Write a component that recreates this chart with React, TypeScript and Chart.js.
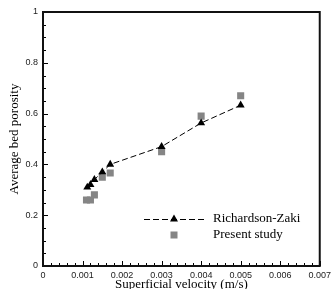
import React, { useEffect, useRef } from "react";
import { Chart, registerables } from "chart.js";

Chart.register(...registerables);

const velocityRZ = [0.00112, 0.0012, 0.0013, 0.0015, 0.0017, 0.003, 0.004, 0.005];
const porosityRZ = [0.31, 0.32, 0.34, 0.37, 0.40, 0.47, 0.563, 0.633];
const velocityPS = [0.0011, 0.0012, 0.0013, 0.0015, 0.0017, 0.003, 0.004, 0.005];
const porosityPS = [0.26, 0.26, 0.28, 0.35, 0.366, 0.45, 0.59, 0.67];
const seriesNames = ["Richardson-Zaki", "Present study"];
const xTitle = "Superficial velocity (m/s)";
const yTitle = "Average bed porosity";

const SERIF = "'Liberation Serif', 'Times New Roman', serif";
const SANS = "'Liberation Sans', Arial, sans-serif";

const framePlugin = {
  id: "frame",
  beforeDatasetsDraw(chart: any) {
    const { ctx, chartArea: a, scales } = chart;
    const xs = scales.x;
    const ys = scales.y;
    ctx.save();
    ctx.strokeStyle = "#000";
    ctx.lineWidth = 1;
    for (let i = 0; i <= 35; i++) {
      const v = i * 0.0002;
      const px = Math.round(xs.getPixelForValue(v)) + 0.5;
      const len = i % 5 === 0 ? 5 : 3;
      ctx.beginPath();
      ctx.moveTo(px, a.bottom);
      ctx.lineTo(px, a.bottom - len);
      ctx.stroke();
    }
    for (let i = 0; i <= 20; i++) {
      const v = i * 0.05;
      const py = Math.round(ys.getPixelForValue(v)) + 0.5;
      const len = i % 4 === 0 ? 5 : 3;
      ctx.beginPath();
      ctx.moveTo(a.left, py);
      ctx.lineTo(a.left + len, py);
      ctx.stroke();
    }
    ctx.lineWidth = 2;
    ctx.strokeStyle = "#111";
    ctx.strokeRect(a.left, a.top, a.right - a.left, a.bottom - a.top);
    ctx.restore();
  },
  afterDraw(chart: any) {
    const { ctx, chartArea: a } = chart;
    const x0 = a.left + 101;
    const x1 = a.left + 161;
    const xm = (x0 + x1) / 2;
    const y1 = a.top + 207;
    const y2 = a.top + 223;
    ctx.save();
    ctx.strokeStyle = "#000";
    ctx.lineWidth = 1;
    ctx.setLineDash([6, 3]);
    ctx.beginPath();
    ctx.moveTo(x0, y1 + 0.5);
    ctx.lineTo(x1, y1 + 0.5);
    ctx.stroke();
    ctx.setLineDash([]);
    ctx.fillStyle = "#000";
    ctx.beginPath();
    ctx.moveTo(xm, y1 - 4.5);
    ctx.lineTo(xm + 4, y1 + 2.5);
    ctx.lineTo(xm - 4, y1 + 2.5);
    ctx.closePath();
    ctx.fill();
    ctx.fillStyle = "#858585";
    ctx.fillRect(xm - 3.5, y2 - 3.5, 7, 7);
    ctx.fillStyle = "#000";
    ctx.font = `13px ${SERIF}`;
    ctx.textBaseline = "middle";
    ctx.textAlign = "left";
    ctx.fillText(seriesNames[0], x1 + 9, y1);
    ctx.fillText(seriesNames[1], x1 + 9, y2);
    ctx.restore();
  },
};

export default function App() {
  const ref = useRef<HTMLCanvasElement | null>(null);
  useEffect(() => {
    if (!ref.current) return;
    const chart = new Chart(ref.current, {
      type: "scatter",
      data: {
        datasets: [
          {
            label: seriesNames[0],
            data: velocityRZ.map((x, i) => ({ x, y: porosityRZ[i] })),
            showLine: true,
            borderColor: "#000",
            borderWidth: 1,
            borderDash: [6, 3],
            pointStyle: "triangle",
            pointRadius: 4.6,
            pointBackgroundColor: "#000",
            pointBorderColor: "#000",
            pointBorderWidth: 0,
          },
          {
            label: seriesNames[1],
            data: velocityPS.map((x, i) => ({ x, y: porosityPS[i] })),
            showLine: false,
            pointStyle: "rect",
            pointRadius: 5,
            pointBackgroundColor: "#858585",
            pointBorderColor: "#858585",
            pointBorderWidth: 0,
          },
        ],
      },
      options: {
        animation: false,
        responsive: true,
        maintainAspectRatio: false,
        layout: { padding: { top: 12, right: 12, left: 0, bottom: 0 } },
        plugins: { legend: { display: false }, tooltip: { enabled: false } },
        scales: {
          x: {
            type: "linear",
            min: 0,
            max: 0.007,
            afterFit: (s: any) => {
              s.height = 23;
            },
            grid: { display: false, drawTicks: false },
            border: { display: false },
            ticks: {
              stepSize: 0.001,
              padding: 4,
              maxRotation: 0,
              color: "#222",
              font: { size: 9, family: SANS },
              callback: (v: any) => (Number(v) === 0 ? "0" : Number(v).toFixed(3)),
            },
            title: {
              display: true,
              text: xTitle,
              color: "#000",
              font: { size: 13, family: SERIF, lineHeight: 1 },
              padding: { top: 0, bottom: -2 },
            },
          },
          y: {
            type: "linear",
            min: 0,
            max: 1,
            afterFit: (s: any) => {
              s.width = 43;
            },
            grid: { display: false, drawTicks: false },
            border: { display: false },
            ticks: {
              stepSize: 0.2,
              padding: 5,
              color: "#222",
              font: { size: 9, family: SANS },
              callback: (v: any) => String(parseFloat(Number(v).toFixed(1))),
            },
            title: {
              display: true,
              text: yTitle,
              color: "#000",
              font: { size: 13, family: SERIF, lineHeight: 1 },
              padding: { top: 8, bottom: 0 },
            },
          },
        },
      },
      plugins: [framePlugin],
    });
    return () => chart.destroy();
  }, []);
  return (
    <div style={{ position: "fixed", left: 0, top: 0, width: 335, height: 289, background: "#fff" }}>
      <canvas ref={ref} />
    </div>
  );
}
